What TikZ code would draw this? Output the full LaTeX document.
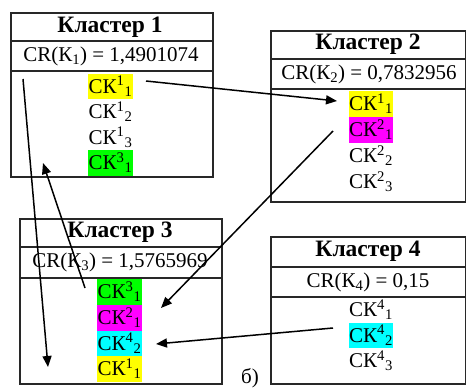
\documentclass[tikz,border=0pt]{standalone}
\usepackage{fontspec}
\setmainfont{Liberation Serif}
\usetikzlibrary{arrows.meta}
\definecolor{hlyellow}{RGB}{255,255,0}
\definecolor{hlgreen}{RGB}{0,255,0}
\definecolor{hlmagenta}{RGB}{255,0,255}
\definecolor{hlcyan}{RGB}{0,255,255}
\definecolor{framecol}{RGB}{40,40,40}
\tikzset{
 frame/.style={draw=framecol, line width=1.6pt, inner sep=0, anchor=north west},
 divline/.style={draw=framecol, line width=1.2pt},
 title/.style={font=\fontsize{23.5}{26}\selectfont\bfseries, inner sep=0},
 crtext/.style={font=\fontsize{21}{24}\selectfont, inner sep=0},
 item/.style={font=\fontsize{21}{24}\selectfont, inner xsep=0.5pt, inner ysep=0, text height=19.5pt, text depth=6pt},
 conn/.style={line width=1.5pt, -{Triangle[length=11pt,width=9pt]}},
}
\newcommand{\ck}[2]{СК\textsuperscript{#1}\textsubscript{#2}}
\begin{document}
\begin{tikzpicture}[x=1pt,y=-1pt]
\useasboundingbox (0,0) rectangle (466,388);
% Cluster 1
\node[frame, minimum width=202pt, minimum height=164pt] (k1) at (10,12) {};
\draw[divline] (10,41) -- (212,41);
\draw[divline] (10,71) -- (212,71);
\node[title] (t1) at (110,27) {Кластер 1};
\node[crtext] (c1) at (111,56) {CR(К\textsubscript{1}) = 1,4901074};
\node[item, fill=hlyellow] (i11) at (110.5,86.5) {\ck{1}{1}};
\node[item] (i12) at (110.5,112) {\ck{1}{2}};
\node[item] (i13) at (110.5,137.5) {\ck{1}{3}};
\node[item, fill=hlgreen] (i14) at (110.5,163) {\ck{3}{1}};
% Cluster 2
\node[frame, minimum width=195.3pt, minimum height=171pt] (k2) at (270,30) {};
\draw[divline] (270,59) -- (465.3,59);
\draw[divline] (270,89) -- (465.3,89);
\node[title] (t2) at (368,44.5) {Кластер 2};
\node[crtext] (c2) at (369,74) {CR(К\textsubscript{2}) = 0,7832956};
\node[item, fill=hlyellow] (i21) at (371,104) {\ck{1}{1}};
\node[item, fill=hlmagenta] (i22) at (371,130) {\ck{2}{1}};
\node[item] (i23) at (371,156) {\ck{2}{2}};
\node[item] (i24) at (371,182) {\ck{2}{3}};
% Cluster 3
\node[frame, minimum width=202pt, minimum height=165pt] (k3) at (19,218) {};
\draw[divline] (19,247) -- (221,247);
\draw[divline] (19,278) -- (221,278);
\node[title] (t3) at (120,232.5) {Кластер 3};
\node[crtext] (c3) at (120,262.5) {CR(К\textsubscript{3}) = 1,5765969};
\node[item, fill=hlgreen] (i31) at (119.5,292) {\ck{3}{1}};
\node[item, fill=hlmagenta] (i32) at (119.5,318) {\ck{2}{1}};
\node[item, fill=hlcyan] (i33) at (119.5,343.5) {\ck{4}{2}};
\node[item, fill=hlyellow] (i34) at (119.5,369) {\ck{1}{1}};
% Cluster 4
\node[frame, minimum width=195.3pt, minimum height=147pt] (k4) at (270,236) {};
\draw[divline] (270,267) -- (465.3,267);
\draw[divline] (270,297) -- (465.3,297);
\node[title] (t4) at (368,251.5) {Кластер 4};
\node[crtext] (c4) at (368,282) {CR(К\textsubscript{4}) = 0,15};
\node[item] (i41) at (371,310) {\ck{4}{1}};
\node[item, fill=hlcyan] (i42) at (371,335.5) {\ck{4}{2}};
\node[item] (i43) at (371,361) {\ck{4}{3}};
% label
\node[crtext] (lab) at (250,378) {б)};
% connector ends
\coordinate (a1s) at (146,81);  \coordinate (a1e) at (337,101);
\coordinate (a2s) at (23,79);   \coordinate (a2e) at (48,367);
\coordinate (a3s) at (85,288);  \coordinate (a3e) at (43,163);
\coordinate (a4s) at (333,131); \coordinate (a4e) at (161,308);
\coordinate (a5s) at (333,328); \coordinate (a5e) at (156,344);
\draw[conn] (a1s) -- (a1e);
\draw[conn] (a2s) -- (a2e);
\draw[conn] (a3s) -- (a3e);
\draw[conn] (a4s) -- (a4e);
\draw[conn] (a5s) -- (a5e);
\end{tikzpicture}
\end{document}
